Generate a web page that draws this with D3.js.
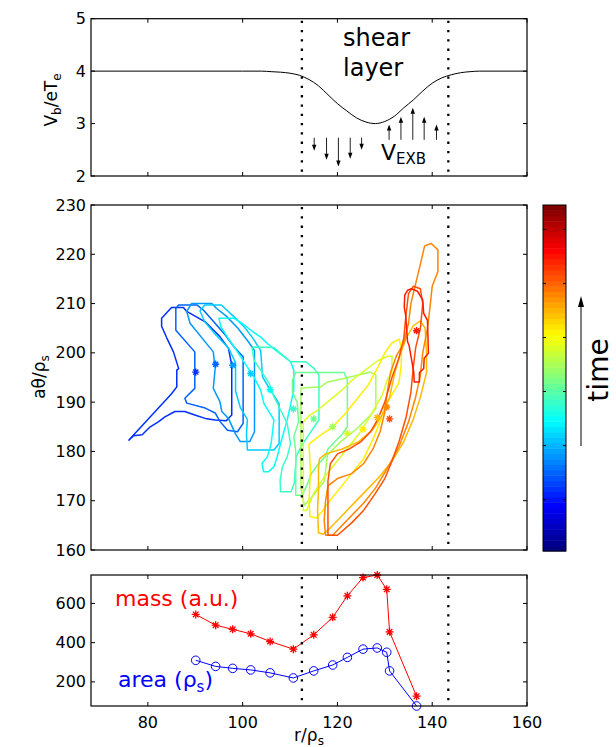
<!DOCTYPE html>
<html>
<head>
<meta charset="utf-8">
<script src="https://cdn.jsdelivr.net/npm/d3@7"></script>
<style>
  body { margin: 0; background: #fff; }
  svg text { font-family: "DejaVu Sans", sans-serif; }
</style>
</head>
<body>
<svg id="fig" width="616" height="747"></svg>
<script>
// ============= Data =============
const xTicks = [80, 100, 120, 140, 160];
const shearEdges = [112.5, 143.4];

// Top panel: beam potential profile
const profileR = [68, 100, 104, 106, 108, 110, 112, 114, 116, 118, 120, 122, 124, 126, 128,
                  130, 132, 134, 136, 138, 140, 142, 144, 146, 148, 150, 160];
const profileV = [4, 4, 4, 3.99, 3.98, 3.96, 3.92, 3.84, 3.72, 3.55, 3.38, 3.24, 3.11, 3.03, 3.0,
                  3.04, 3.14, 3.30, 3.45, 3.62, 3.77, 3.87, 3.93, 3.97, 3.99, 4, 4];
const topYTicks = [2, 3, 4, 5];

// ExB arrows (r position, tip value); bases share one value per group
const downArrowR = [115.1, 117.7, 120.2, 122.7, 125.1];
const downArrowTip = [2.48, 2.31, 2.18, 2.33, 2.50];
const downArrowBase = 2.73;
const upArrowR = [130.9, 133.4, 135.9, 138.3, 140.9];
const upArrowTip = [2.98, 3.13, 3.30, 3.13, 2.98];
const upArrowBase = 2.69;

// Blob centres, mass and area at each time
const blobR = [90.1, 94.3, 97.9, 101.7, 105.8, 110.7, 115.0, 119.0, 122.1, 125.4, 128.4, 130.4, 131.0, 136.7];
const blobTheta = [196.1, 197.7, 197.5, 195.8, 192.5, 188.6, 186.6, 185.0, 183.7, 184.5, 186.9, 189.0, 186.6, 204.5];
const blobMass = [544, 489, 468, 445, 406, 367, 440, 529, 639, 732, 745, 672, 455, 127];
const blobArea = [310, 279, 269, 261, 246, 220, 256, 286, 325, 367, 373, 351, 256, 77];
const midYTicks = [160, 170, 180, 190, 200, 210, 220, 230];
const botYTicks = [200, 400, 600];

// Blob outlines [r, a*theta] at each time
const contours = [
  [[76.0,182.3],[77.0,183.2],[78.8,183.4],[80.5,185.0],[82.2,186.0],[83.6,187.0],[85.7,188.1],[87.8,188.1],
   [89.9,187.4],[92.1,186.7],[94.2,186.4],[96.5,186.2],[97.7,187.4],[97.7,197.5],[97.0,200.9],[95.2,203.3],
   [92.1,206.3],[88.2,208.4],[87.5,209.2],[85.0,209.2],[82.9,207.0],[82.9,205.4],[84.0,203.0],[85.4,200.2],
   [86.5,196.8],[86.1,196.5],[86.1,193.1],[85.0,191.7]],
  [[85.9,209.0],[86.5,209.7],[90.4,209.7],[91.8,208.6],[93.9,206.3],[96.1,203.9],[98.2,201.2],[100.1,199.2],
   [100.1,185.7],[98.9,184.0],[96.8,184.3],[95.2,186.1],[94.2,187.8],[92.1,188.8],[88.2,189.8],[87.8,190.8],
   [89.9,192.8],[89.9,200.2],[85.9,204.6]],
  [[88.2,208.4],[89.2,210.0],[93.5,210.0],[94.5,209.0],[96.5,207.5],[99.0,205.0],[101.0,202.5],[102.5,200.5],
   [102.5,184.0],[101.5,182.0],[99.5,182.0],[98.5,183.5],[97.0,186.7],[95.6,188.1],[95.2,190.1],[93.8,192.8],
   [94.2,196.8],[93.8,200.2],[88.9,206.0]],
  [[91.0,208.5],[92.0,209.7],[95.5,209.7],[98.2,207.3],[100.3,205.3],[102.0,203.2],[103.8,200.5],[104.2,195.1],
   [105.9,192.4],[107.7,189.7],[107.7,181.6],[106.6,180.3],[101.0,180.3],[100.8,183.5],[101.0,186.5],[99.5,188.9],
   [98.5,192.3],[98.5,198.0],[97.0,201.0],[94.0,204.0],[92.0,206.3]],
  [[95.0,207.0],[98.2,207.0],[99.9,206.0],[101.7,204.6],[103.8,203.2],[105.2,201.9],[107.0,200.5],[110.1,198.2],
   [110.8,196.5],[110.8,192.5],[110.0,189.0],[109.4,186.4],[108.0,181.6],[107.3,178.9],[106.6,176.9],[105.5,175.9],
   [104.4,175.9],[104.1,177.6],[105.2,178.9],[106.0,181.5],[106.6,186.4],[104.5,189.7],[103.8,192.4],[102.4,195.1],
   [101.0,197.1],[99.6,199.2],[98.2,201.2],[96.8,203.2],[95.4,205.3]],
  [[102.0,200.9],[102.5,201.2],[106.6,201.1],[108.0,199.9],[110.1,198.2],[113.3,198.2],[115.1,196.8],[116.1,195.5],
   [116.1,186.4],[115.1,185.0],[113.7,183.0],[112.3,181.0],[111.3,178.9],[110.9,173.6],[110.2,171.8],[108.0,171.8],
   [107.9,174.2],[108.4,176.9],[109.4,178.9],[110.1,181.6],[109.4,185.7],[108.0,188.4],[106.6,191.1],[105.6,193.8],
   [103.8,196.5],[102.4,198.5]],
  [[111.2,196.0],[121.4,196.0],[122.1,194.5],[122.1,185.0],[121.0,183.5],[119.5,182.0],[118.0,180.5],[117.5,179.0],
   [116.0,177.5],[114.5,175.5],[113.5,173.0],[112.5,171.1],[111.2,171.1],[111.2,180.0],[110.8,183.0],[111.8,186.0],
   [111.5,190.0],[110.5,192.0],[110.5,194.5]],
  [[112.3,192.8],[116.5,193.1],[117.9,194.1],[121.4,194.8],[127.0,196.1],[128.1,195.5],[128.1,188.7],[127.0,187.4],
   [124.2,184.7],[120.7,182.0],[117.9,179.3],[117.2,173.9],[114.4,170.5],[113.0,169.1],[112.3,172.5],[112.3,183.3]],
  [[112.8,186.0],[114.0,187.2],[116.0,188.5],[118.5,190.5],[121.0,192.5],[123.5,194.8],[126.0,196.6],[128.5,198.4],
   [130.5,199.3],[131.5,199.3],[131.5,196.0],[130.5,194.5],[129.5,191.5],[128.0,189.0],[126.5,186.5],[124.5,183.5],
   [122.0,180.5],[119.5,177.5],[117.0,174.5],[115.0,171.5],[113.5,168.0],[112.8,168.0],[112.8,177.0]],
  [[114.0,181.5],[116.0,183.0],[119.0,185.0],[121.5,187.5],[124.0,190.5],[126.5,193.5],[128.5,197.0],[130.0,200.0],
   [131.5,202.0],[133.0,202.8],[133.5,201.0],[133.5,198.0],[133.0,194.0],[131.5,191.5],[130.0,189.0],[129.0,186.0],
   [127.5,182.5],[125.5,178.5],[123.0,175.5],[120.5,172.5],[118.0,169.5],[116.5,167.5],[115.5,166.5],[114.2,166.8],
   [114.0,170.0],[114.3,176.0]],
  [[116.0,176.5],[116.2,178.5],[117.5,179.5],[121.0,180.5],[124.5,182.0],[127.5,184.5],[129.5,187.5],[131.0,191.0],
   [132.0,195.5],[133.0,199.0],[134.5,203.0],[136.0,205.5],[137.5,206.5],[138.5,205.0],[138.8,200.0],[138.8,196.0],
   [137.5,191.0],[136.0,186.5],[134.0,182.0],[131.5,178.0],[129.0,175.0],[126.0,172.0],[123.0,169.0],[120.5,166.5],
   [118.5,164.5],[117.0,163.2],[116.0,163.5],[115.8,168.0],[116.0,172.0]],
  [[118.0,173.0],[120.0,174.5],[123.0,175.5],[125.5,177.5],[127.5,180.5],[129.0,184.0],[130.0,188.0],[130.5,192.0],
   [131.2,196.0],[132.5,199.5],[134.0,202.0],[135.0,206.0],[135.5,210.0],[136.5,214.0],[137.5,218.0],[138.4,221.7],
   [139.8,222.2],[141.2,220.9],[141.2,216.5],[140.0,213.5],[139.5,209.0],[139.0,205.0],[138.0,200.0],[137.5,195.5],
   [136.5,191.0],[135.0,186.0],[133.0,181.0],[130.5,176.5],[128.0,172.5],[125.5,169.5],[123.0,167.0],[120.5,164.5],
   [119.0,163.0],[117.5,163.0],[117.2,166.0],[117.5,170.0]],
  [[118.0,163.0],[120.0,163.0],[123.0,165.5],[125.5,168.0],[128.0,171.5],[130.0,174.5],[131.5,178.0],[133.0,182.0],
   [134.5,187.0],[135.5,192.0],[136.0,197.0],[136.5,201.0],[137.5,205.0],[138.0,210.0],[137.5,213.0],[136.0,213.5],
   [135.0,212.0],[134.5,208.0],[134.0,203.0],[133.0,199.0],[131.5,195.0],[130.0,190.0],[128.5,186.5],[127.0,184.0],
   [125.0,182.0],[122.5,180.5],[120.0,179.5],[118.5,177.5],[118.0,174.0],[118.0,168.0]],
  [[134.2,211.7],[134.8,212.7],[135.6,213.0],[136.9,212.5],[138.0,210.7],[138.2,208.0],[139.0,206.6],[139.2,199.9],
   [138.3,198.9],[138.2,196.8],[137.3,196.0],[137.3,194.1],[136.2,194.1],[136.1,196.1],[135.1,201.6],[134.8,202.2],
   [134.4,207.6],[134.1,209.3]]
];

// ============= Layout =============
const svg = d3.select('#fig');
const left = 91, right = 527;

const x = d3.scaleLinear().domain([68, 160]).range([left, right]);
const yTop = d3.scaleLinear().domain([2, 5]).range([176, 18.7]);
const yMid = d3.scaleLinear().domain([160, 230]).range([550, 205]);
const yBot = d3.scaleLinear().domain(d3.extent(blobMass.concat(blobArea))).range([706, 575]);

// jet colormap
function jet(v){
  const c = t => Math.max(0, Math.min(1, t));
  return d3.rgb(255*c(1.5 - Math.abs(4*v - 3)), 255*c(1.5 - Math.abs(4*v - 2)), 255*c(1.5 - Math.abs(4*v - 1))).formatHex();
}
const timeColor = d3.scaleLinear().domain([0, blobR.length - 1]).range([0.17, 0.85]);

// MATLAB style '*' marker
function asterisk(cx, cy, s){
  const d = s*0.7071;
  return 'M' +(cx - s) +',' +cy +'H' +(cx + s) +'M' +cx +',' +(cy - s) +'V' +(cy + s) +
         'M' +(cx - d) +',' +(cy - d) +'L' +(cx + d) +',' +(cy + d) +
         'M' +(cx - d) +',' +(cy + d) +'L' +(cx + d) +',' +(cy - d);
}

// Draw a box with inward ticks on all four sides
function frame(y, yTicks, xLabels){
  const g = svg.append('g');
  const [y0, y1] = [y.range()[1], y.range()[0]];
  const tl = 4;

  xTicks.forEach(t =>{
    g.append('line').attr('x1', x(t)).attr('x2', x(t)).attr('y1', y1).attr('y2', y1 - tl);
    g.append('line').attr('x1', x(t)).attr('x2', x(t)).attr('y1', y0).attr('y2', y0 + tl);
    if(xLabels){
      g.append('text').attr('x', x(t)).attr('y', 728)
        .attr('text-anchor', 'middle').attr('font-size', 16).text(t);
    }
  });

  yTicks.forEach(t =>{
    g.append('line').attr('x1', left).attr('x2', left + tl).attr('y1', y(t)).attr('y2', y(t));
    g.append('line').attr('x1', right).attr('x2', right - tl).attr('y1', y(t)).attr('y2', y(t));
    g.append('text').attr('x', left - 5).attr('y', y(t))
      .attr('text-anchor', 'end').attr('dominant-baseline', 'central')
      .attr('font-size', 16).text(t);
  });

  g.selectAll('line').attr('stroke', '#000').attr('stroke-width', 1);

  g.append('rect')
    .attr('x', left).attr('y', y0)
    .attr('width', right - left).attr('height', y1 - y0)
    .attr('fill', 'none').attr('stroke', '#000').attr('stroke-width', 1.2);

  // shear layer boundaries
  shearEdges.forEach(r =>{
    g.append('line')
      .attr('x1', x(r)).attr('x2', x(r)).attr('y1', y0 + 2).attr('y2', y1)
      .attr('stroke', '#000').attr('stroke-width', 2.3)
      .attr('stroke-dasharray', '2.3,7');
  });
  return g;
}

// ============= Top panel =============
const line = (xs, ys, yScale) => d3.line()
  .x((d, i) => x(xs[i])).y((d, i) => yScale(ys[i]))
  .curve(d3.curveMonotoneX)(xs);

svg.append('path')
  .attr('d', line(profileR, profileV, yTop))
  .attr('fill', 'none').attr('stroke', '#000').attr('stroke-width', 1);

frame(yTop, topYTicks, false);

function arrow(r, from, to){
  const xa = x(r), ya = yTop(from), yb = yTop(to);
  const dir = yb > ya ? 1 : -1;
  svg.append('line')
    .attr('x1', xa).attr('x2', xa).attr('y1', ya).attr('y2', yb - dir*5)
    .attr('stroke', '#222').attr('stroke-width', 1);
  svg.append('path')
    .attr('d', 'M' +xa +',' +yb +'L' +(xa - 2.2) +',' +(yb - dir*6) +'L' +(xa + 2.2) +',' +(yb - dir*6) +'Z')
    .attr('fill', '#000');
}
downArrowR.forEach((r, i) => arrow(r, downArrowBase, downArrowTip[i]));
upArrowR.forEach((r, i) => arrow(r, upArrowBase, upArrowTip[i]));

svg.append('text').attr('x', 343).attr('y', 46).attr('font-size', 24).text('shear');
svg.append('text').attr('x', 343).attr('y', 76).attr('font-size', 24).text('layer');

const vexb = svg.append('text').attr('x', 381).attr('y', 160).attr('font-size', 22);
vexb.append('tspan').text('V');
vexb.append('tspan').attr('font-size', 15).attr('dy', 4).text('EXB');

const yl1 = svg.append('text')
  .attr('transform', 'translate(57,100) rotate(-90)')
  .attr('text-anchor', 'middle').attr('font-size', 17);
yl1.append('tspan').text('V');
yl1.append('tspan').attr('font-size', 12).attr('dy', 4).text('b');
yl1.append('tspan').attr('dy', -4).text('/eT');
yl1.append('tspan').attr('font-size', 12).attr('dy', 4).text('e');

// ============= Middle panel =============
const blobs = svg.append('g');
const outline = d3.line().x(d => x(d[0])).y(d => yMid(d[1]));

contours.forEach((c, i) =>{
  blobs.append('path')
    .attr('d', outline(c) +'Z')
    .attr('fill', 'none')
    .attr('stroke', jet(timeColor(i)))
    .attr('stroke-width', 1.5)
    .attr('stroke-linejoin', 'round');
});

blobR.forEach((r, i) =>{
  blobs.append('path')
    .attr('d', asterisk(x(r), yMid(blobTheta[i]), 3.6))
    .attr('stroke', jet(timeColor(i)))
    .attr('stroke-width', 1.4);
});

frame(yMid, midYTicks, false);

const yl2 = svg.append('text')
  .attr('transform', 'translate(45,377) rotate(-90)')
  .attr('text-anchor', 'middle').attr('font-size', 17);
yl2.append('tspan').text('aθ/ρ');
yl2.append('tspan').attr('font-size', 12).attr('dy', 4).text('s');

// colorbar
const cb = {x: 543, y: 205, w: 23, h: 346};
const cbScale = d3.scaleLinear().domain([0.5, 64.5]).range([cb.y + cb.h, cb.y]);
const cbG = svg.append('g');
cbG.selectAll('rect')
  .data(d3.range(1, 65))
  .enter()
  .append('rect')
  .attr('x', cb.x).attr('width', cb.w)
  .attr('y', d => cbScale(d + 0.5))
  .attr('height', d => cbScale(d - 0.5) - cbScale(d + 0.5) + 0.5)
  .attr('fill', d => jet((d - 1)/63));
cbG.append('rect')
  .attr('x', cb.x).attr('y', cb.y).attr('width', cb.w).attr('height', cb.h)
  .attr('fill', 'none').attr('stroke', '#000').attr('stroke-width', 1);
[10, 20, 30, 40, 50, 60].forEach(t =>{
  cbG.append('line').attr('x1', cb.x).attr('x2', cb.x + 3).attr('y1', cbScale(t)).attr('y2', cbScale(t))
    .attr('stroke', '#000');
  cbG.append('line').attr('x1', cb.x + cb.w).attr('x2', cb.x + cb.w - 3).attr('y1', cbScale(t)).attr('y2', cbScale(t))
    .attr('stroke', '#000');
});

svg.append('line')
  .attr('x1', 581).attr('x2', 581).attr('y1', 446).attr('y2', 304)
  .attr('stroke', '#000').attr('stroke-width', 1);
svg.append('path').attr('d', 'M581,296L578,307L584,307Z').attr('fill', '#000');

svg.append('text')
  .attr('transform', 'translate(608,370) rotate(-90)')
  .attr('text-anchor', 'middle').attr('font-size', 28)
  .text('time');

// ============= Bottom panel =============
const seriesLine = vals => d3.line()
  .x((d, i) => x(blobR[i])).y(d => yBot(d))(vals);

svg.append('path').attr('d', seriesLine(blobMass))
  .attr('fill', 'none').attr('stroke', '#f00').attr('stroke-width', 1);
blobMass.forEach((v, i) =>{
  svg.append('path').attr('d', asterisk(x(blobR[i]), yBot(v), 4))
    .attr('stroke', '#f00').attr('stroke-width', 1.3);
});

svg.append('path').attr('d', seriesLine(blobArea))
  .attr('fill', 'none').attr('stroke', '#00f').attr('stroke-width', 1);
blobArea.forEach((v, i) =>{
  svg.append('circle').attr('cx', x(blobR[i])).attr('cy', yBot(v)).attr('r', 4.3)
    .attr('fill', 'none').attr('stroke', '#00f').attr('stroke-width', 1);
});

frame(yBot, botYTicks, true);

svg.append('text').attr('x', 115).attr('y', 606).attr('font-size', 22)
  .attr('fill', '#f00').text('mass (a.u.)');

const areaLabel = svg.append('text').attr('x', 118).attr('y', 687).attr('font-size', 22).attr('fill', '#00f');
areaLabel.append('tspan').text('area (ρ');
areaLabel.append('tspan').attr('font-size', 15).attr('dy', 5).text('s');
areaLabel.append('tspan').attr('dy', -5).text(')');

const xl = svg.append('text').attr('x', 309).attr('y', 741)
  .attr('text-anchor', 'middle').attr('font-size', 17);
xl.append('tspan').text('r/ρ');
xl.append('tspan').attr('font-size', 12).attr('dy', 4).text('s');
</script>
</body>
</html>
